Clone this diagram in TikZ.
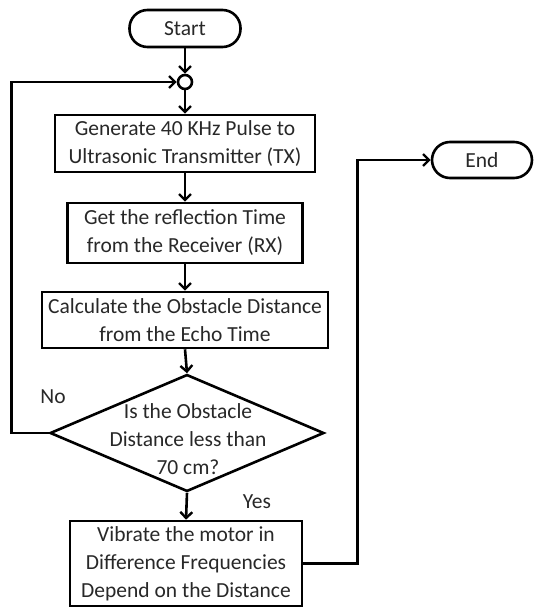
\documentclass[tikz,border=0pt]{standalone}
\usepackage{fontspec}
\setmainfont{Carlito}
\usetikzlibrary{arrows.meta,shapes.geometric}
\definecolor{txt}{RGB}{40,40,40}
\begin{document}
\begin{tikzpicture}[x=1pt,y=-1pt,
  lbl/.style={font=\fontsize{21.5}{28}\selectfont, text=txt},
  box/.style={draw, line width=2.6pt, inner sep=0pt, align=center, lbl},
  term/.style={draw, line width=2.6pt, rectangle, rounded corners=18pt, inner sep=0pt, lbl},
  arr/.style={-{Straight Barb[length=6pt,width=12pt,line width=2.4pt]}, line width=2.6pt},
  ]
\useasboundingbox[fill=white] (0,0) rectangle (537,610);
\node[term, minimum width=111pt, minimum height=37pt] (start) at (185,28.5) {Start};
\node[draw, circle, line width=2.6pt, minimum size=14pt, inner sep=0pt] (c) at (185,82) {};
\node[box, minimum width=260pt, minimum height=57pt] (b1) at (185,143.5) {Generate 40 KHz Pulse to\\Ultrasonic Transmitter (TX)};
\node[box, minimum width=235pt, minimum height=60pt] (b2) at (185,233) {Get the reflection Time\\from the Receiver (RX)};
\node[box, minimum width=286pt, minimum height=56pt] (b3) at (185,320) {Calculate the Obstacle Distance\\from the Echo Time};
\node[draw, diamond, line width=2.6pt, inner sep=0pt, minimum width=274pt, minimum height=117pt] (d) at (187,433) {};
\node[lbl, align=center] (dt) at (188,439) {Is the Obstacle\\Distance less than\\70 cm?};
\node[box, minimum width=232pt, minimum height=85pt] (b4) at (186,563.5) {Vibrate the motor in\\Difference Frequencies\\Depend on the Distance};
\node[term, minimum width=100pt, minimum height=36pt] (end) at (482,160) {End};
\node[lbl] (no) at (53,397) {No};
\node[lbl] (yes) at (257,502) {Yes};
\draw[arr] (start) -- (c);
\draw[arr] (c) -- (b1);
\draw[arr] (b1) -- (b2);
\draw[arr] (b2) -- (b3);
\draw[arr] (b3.south) -- (d.north);
\draw[arr] (d.south) -- (b4.north);
\draw[arr] (d.west) -- ++(-37,0) |- (c.west);
\draw[arr] (b4.east) -- ++(54,0) |- (end.west);
\end{tikzpicture}
\end{document}
